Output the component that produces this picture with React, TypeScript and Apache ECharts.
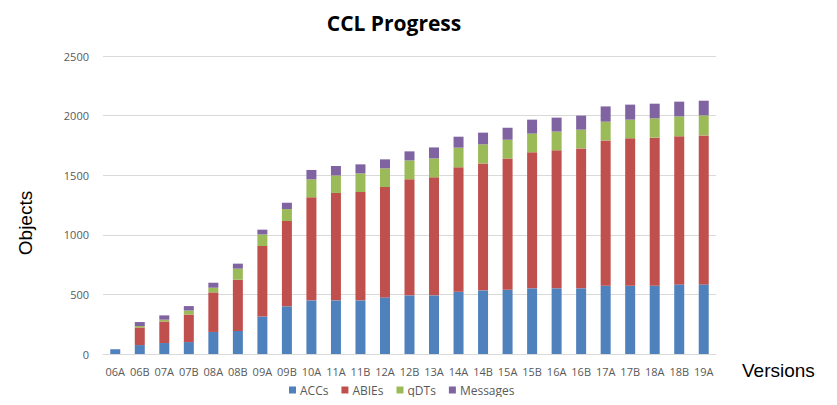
import React, { useEffect, useRef } from "react";
import * as echarts from "echarts";

const versions = ["06A","06B","07A","07B","08A","08B","09A","09B","10A","11A","11B","12A","12B","13A","14A","14B","15A","15B","16A","16B","17A","17B","18A","18B","19A"];

const accs = [40, 75, 92, 100, 185, 193, 315, 400, 450, 450, 450, 475, 492, 492, 523, 534, 540, 551, 551, 551, 573, 573, 573, 584, 584];
const abies = [0, 148, 181, 231, 332, 430, 591, 716, 864, 901, 909, 926, 973, 990, 1043, 1065, 1101, 1141, 1158, 1174, 1219, 1236, 1242, 1242, 1250];
const qdts = [0, 12, 15, 34, 39, 93, 97, 100, 151, 147, 156, 156, 159, 159, 165, 160, 157, 157, 157, 157, 157, 157, 162, 167, 168];
const messages = [0, 33, 36, 37, 42, 42, 40, 53, 79, 79, 76, 76, 76, 92, 92, 98, 101, 117, 117, 118, 128, 126, 123, 124, 123];

const yTicks = [0, 500, 1000, 1500, 2000, 2500];

export default function App() {
  const ref = useRef<HTMLDivElement>(null);
  useEffect(() => {
    if (!ref.current) return;
    const chart = echarts.init(ref.current, undefined, { renderer: "svg" });
    const labelColor = "#595959";
    const mk = (name: string, data: number[], color: string) => ({
      name,
      type: "bar",
      stack: "total",
      data,
      barWidth: 10,
      itemStyle: { color },
    });
    chart.setOption({
      animation: false,
      title: {
        text: "CCL Progress",
        left: 389,
        top: 7,
        textAlign: "center",
        textStyle: { fontFamily: "Open Sans", fontWeight: "bold", fontSize: 21, color: "#000" },
      },
      legend: {
        top: 384,
        left: 289,
        padding: 0,
        itemWidth: 7,
        itemHeight: 7,
        itemGap: 13,
        icon: "rect",
        textStyle: { fontFamily: "Open Sans", fontSize: 12, color: labelColor, padding: [0, 0, 0, -1] },
        data: ["ACCs", "ABIEs", "qDTs", "Messages"],
      },
      grid: { left: 103, right: 121, top: 56, bottom: 51, containLabel: false },
      xAxis: {
        type: "category",
        data: versions,
        axisLine: { lineStyle: { color: "#d9d9d9" } },
        axisTick: { show: false },
        axisLabel: { color: labelColor, fontFamily: "Open Sans", fontSize: 11, margin: 12, interval: 0 },
      },
      yAxis: {
        type: "value",
        min: yTicks[0],
        max: yTicks[yTicks.length - 1],
        interval: 500,
        axisLine: { show: false },
        axisTick: { show: false },
        axisLabel: { color: labelColor, fontFamily: "Open Sans", fontSize: 11, margin: 14, formatter: (v: number) => String(v) },
        splitLine: { lineStyle: { color: "#d9d9d9" } },
      },
      graphic: [
        {
          type: "text",
          x: 25,
          y: 223,
          rotation: Math.PI / 2,
          style: { text: "Objects", fontFamily: "Liberation Sans", fontSize: 19, fill: "#000", align: "center", verticalAlign: "middle" },
        },
        {
          type: "text",
          x: 742,
          y: 370,
          style: { text: "Versions", fontFamily: "Liberation Sans", fontSize: 19, fill: "#000", align: "left", verticalAlign: "middle" },
        },
      ],
      series: [
        mk("ACCs", accs, "#4F81BD"),
        mk("ABIEs", abies, "#C0504D"),
        mk("qDTs", qdts, "#9BBB59"),
        mk("Messages", messages, "#8064A2"),
      ],
    });
    return () => chart.dispose();
  }, []);
  return <div ref={ref} style={{ width: 837, height: 405, margin: -8 }} />;
}
